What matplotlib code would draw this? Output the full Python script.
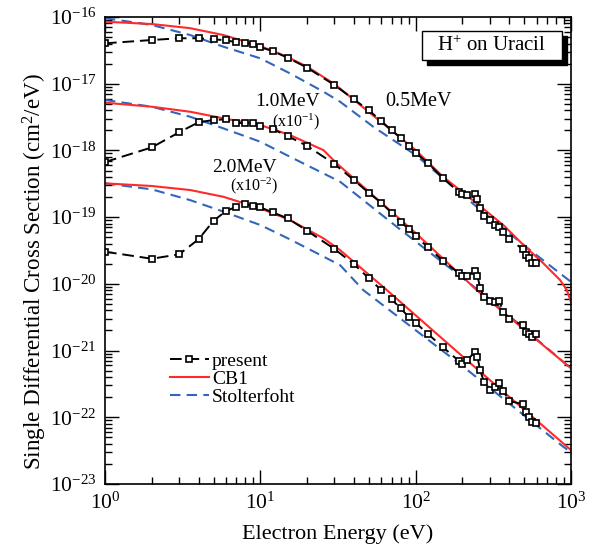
import matplotlib
matplotlib.use("Agg")
import matplotlib.pyplot as plt
from matplotlib.ticker import LogLocator, NullFormatter, FixedLocator
from matplotlib.patches import Rectangle

plt.rcParams['font.family'] = ['Liberation Serif', 'DejaVu Serif']
plt.rcParams['mathtext.fontset'] = 'custom'
plt.rcParams['mathtext.rm'] = 'Liberation Serif'
plt.rcParams['mathtext.it'] = 'Liberation Serif:italic'
plt.rcParams['mathtext.bf'] = 'Liberation Serif:bold'

# ---------------- measured SDCS (present work) ----------------
E_present = [1, 2, 3, 4, 5, 6, 7, 8, 9, 10, 12, 15, 20, 30, 40, 50, 60, 70, 80, 90,
             100, 120, 150, 190, 200, 215, 240, 250, 260, 275, 300, 325, 345, 367,
             400, 490, 514, 537, 564, 596]

sdcs_05 = [4.03e-17, 4.52e-17, 4.80e-17, 4.80e-17, 4.63e-17, 4.48e-17, 4.18e-17,
           4.03e-17, 3.94e-17, 3.52e-17, 3.09e-17, 2.45e-17, 1.74e-17, 9.55e-18,
           5.83e-18, 3.99e-18, 2.76e-18, 2.00e-18, 1.55e-18, 1.17e-18, 9.24e-19,
           6.41e-19, 3.86e-19, 2.35e-19, 2.24e-19, 2.14e-19, 2.22e-19, 1.89e-19,
           1.35e-19, 1.04e-19, 8.95e-20, 7.60e-20, 7.03e-20, 5.98e-20, 4.65e-20,
           3.32e-20, 2.70e-20, 2.44e-20, 2.07e-20, 2.07e-20]

sdcs_10 = [6.7e-19, 1.11e-18, 1.87e-18, 2.64e-18, 2.86e-18, 2.92e-18, 2.60e-18,
           2.55e-18, 2.60e-18, 2.32e-18, 2.09e-18, 1.64e-18, 1.17e-18, 6.25e-19,
           3.60e-19, 2.30e-19, 1.64e-19, 1.16e-19, 8.45e-20, 6.70e-20, 5.21e-20,
           3.53e-20, 2.22e-20, 1.44e-20, 1.32e-20, 1.31e-20, 1.57e-20, 1.31e-20,
           8.75e-21, 6.34e-21, 5.52e-21, 5.28e-21, 5.52e-21, 3.82e-21, 2.97e-21,
           2.41e-21, 1.91e-21, 1.75e-21, 1.61e-21, 1.75e-21]

sdcs_20 = [3.03e-20, 2.38e-20, 2.77e-20, 4.65e-20, 8.83e-20, 1.23e-19, 1.43e-19,
           1.55e-19, 1.48e-19, 1.40e-19, 1.18e-19, 9.60e-20, 6.25e-20, 3.33e-20,
           1.98e-20, 1.21e-20, 8.07e-21, 5.86e-21, 4.30e-21, 3.21e-21, 2.61e-21,
           1.77e-21, 1.12e-21, 6.96e-22, 6.28e-22, 7.13e-22, 9.60e-22, 7.90e-22,
           5.10e-22, 3.41e-22, 2.56e-22, 2.86e-22, 3.29e-22, 2.49e-22, 1.75e-22,
           1.58e-22, 1.18e-22, 1.02e-22, 8.39e-23, 8.28e-23]

# ---------------- CB1 theory ----------------
E_cb1_05 = [1, 2, 3.53, 5.78, 10, 14.8, 20, 30, 100, 150, 263, 367, 494, 664, 851, 940, 1000]
cb1_05 = [8.5e-17, 7.85e-17, 6.8e-17, 5.37e-17, 3.67e-17, 2.54e-17, 1.80e-17, 9.9e-18,
          1.01e-18, 4.04e-19, 1.43e-19, 7.6e-20, 3.82e-20, 2.03e-20, 1.14e-20, 8.07e-21,
          5.33e-21]

E_cb1_10 = [1, 2, 3.53, 5.78, 10, 15.5, 25.5, 31, 100, 247, 1000]
cb1_10 = [5.19e-18, 4.52e-18, 3.80e-18, 3.03e-18, 2.40e-18, 1.70e-18, 1.01e-18, 6.41e-19,
          5.78e-20, 8.07e-21, 5.41e-22]

E_cb1_20 = [1, 2, 3.53, 5.78, 10, 15.5, 25.5, 32.6, 65.2, 213, 1000]
cb1_20 = [3.21e-19, 2.93e-19, 2.55e-19, 2.02e-19, 1.35e-19, 9.06e-20, 4.81e-20, 3.21e-20,
          8.07e-21, 7.21e-22, 3.22e-23]

# ---------------- Stolterfoht model ----------------
E_st_05 = [1, 2, 3.53, 5.78, 10, 15.5, 25.5, 32.6, 53.4, 100, 247, 545, 1000]
st_05 = [9.6e-17, 7.6e-17, 5.37e-17, 3.59e-17, 2.40e-17, 1.43e-17, 7.59e-18, 5.37e-18,
         2.26e-18, 8.53e-19, 1.43e-19, 3.21e-20, 1.07e-20]

E_st_10 = [1, 2, 3.53, 5.78, 10, 15.5, 32.6, 75.5, 287, 1000]
st_10 = [5.70e-18, 4.52e-18, 3.20e-18, 2.14e-18, 1.35e-18, 8.05e-19, 3.40e-19, 7.18e-20,
         6.41e-21, 5.4e-22]

E_st_20 = [1, 2, 3.53, 5.78, 10, 15.5, 32.6, 46, 203, 893, 1000]
st_20 = [3.21e-19, 2.61e-19, 1.80e-19, 1.21e-19, 7.62e-20, 4.65e-20, 1.91e-20, 8.07e-21,
         5.71e-22, 3.61e-23, 3.0e-23]

x_ticks = [1, 10, 100, 1000]
x_ticklabels = [r'10$^{0}$', r'10$^{1}$', r'10$^{2}$', r'10$^{3}$']
y_exponents = list(range(-23, -15))
y_ticklabels = [r'10$^{%d}$' % k for k in y_exponents]

RED = '#ff2a2a'
BLUE = '#3366bb'

fig = plt.figure(figsize=(5.99, 5.54), dpi=100)
ax = fig.add_axes([105 / 599, 1 - 484 / 554, 466 / 599, 467 / 554])

st_kw = dict(color=BLUE, lw=1.5, ls=(0, (5, 3)))
for E, s in [(E_st_05, st_05), (E_st_10, st_10), (E_st_20, st_20)]:
    ax.plot(E, s, **st_kw)
for E, s in [(E_cb1_05, cb1_05), (E_cb1_10, cb1_10), (E_cb1_20, cb1_20)]:
    ax.plot(E, s, color=RED, lw=1.5)
pr_kw = dict(color='black', lw=1.4, ls=(0, (6, 3)), marker='s', ms=4.5,
             mfc='white', mec='black', mew=1.2)
for s in [sdcs_05, sdcs_10, sdcs_20]:
    ax.plot(E_present, s, **pr_kw)

ax.set_xscale('log')
ax.set_yscale('log')
ax.set_xlim(1, 1000)
ax.set_ylim(1e-23, 1e-16)

ax.xaxis.set_major_locator(FixedLocator(x_ticks))
ax.xaxis.set_minor_locator(LogLocator(base=10, subs=range(2, 10), numticks=20))
ax.yaxis.set_major_locator(FixedLocator([10.0 ** k for k in y_exponents]))
ax.yaxis.set_minor_locator(LogLocator(base=10, subs=range(2, 10), numticks=20))
ax.xaxis.set_minor_formatter(NullFormatter())
ax.yaxis.set_minor_formatter(NullFormatter())
ax.set_xticklabels(x_ticklabels)
ax.set_yticklabels(y_ticklabels)

ax.tick_params(which='both', direction='in', top=True, right=True, width=1.0,
               labelsize=15.5)
ax.tick_params(which='major', length=10, pad=6)
ax.tick_params(which='minor', length=5)
for sp in ax.spines.values():
    sp.set_linewidth(1.2)

ax.set_xlabel('Electron Energy (eV)', fontsize=16, labelpad=8)
ax.set_ylabel(r'Single Differential Cross Section (cm$^{2}$/eV)', fontsize=16.6)
ax.yaxis.set_label_coords((49 - 105) / 466, (484 - 272) / 467)

# Energy labels for each curve family
def fig_label(x, y, s, size):
    fig.text(x / 599, 1 - y / 554, s, fontsize=size, ha='center', va='center')

fig_label(418, 102, '0.5MeV', 14.5)
fig_label(288, 102, '1.0MeV', 14)
fig_label(296, 122, r'(x10$^{-1}$)', 11.5)
fig_label(244, 167, '2.0MeV', 14)
fig_label(254, 186, r'(x10$^{-2}$)', 11.5)

# Boxed title with drop shadow
bx0, by0, bw, bh = 422 / 599, 1 - 60 / 554, 140 / 599, 29 / 554
fig.patches.append(Rectangle((bx0 + 5 / 599, by0 - 5 / 554), bw, bh, transform=fig.transFigure,
                             facecolor='black', edgecolor='black', zorder=5))
fig.patches.append(Rectangle((bx0, by0), bw, bh, transform=fig.transFigure,
                             facecolor='white', edgecolor='black', lw=1.0, zorder=6))
fig.text(bx0 + bw / 2, by0 + bh / 2, r'H$^{+}$ on Uracil', fontsize=15,
         ha='center', va='center', zorder=7)

handles = [plt.Line2D([], [], **pr_kw), plt.Line2D([], [], color=RED, lw=1.5),
           plt.Line2D([], [], **st_kw)]
ax.legend(handles, ['present', 'CB1', 'Stolterfoht'], loc='upper left',
          bbox_to_anchor=((170 - 105) / 466, (484 - 352) / 467),
          frameon=False, fontsize=14, handlelength=2.0, handletextpad=0.15,
          labelspacing=0.03, borderpad=0, borderaxespad=0)

fig.savefig('out.png', dpi=100)
